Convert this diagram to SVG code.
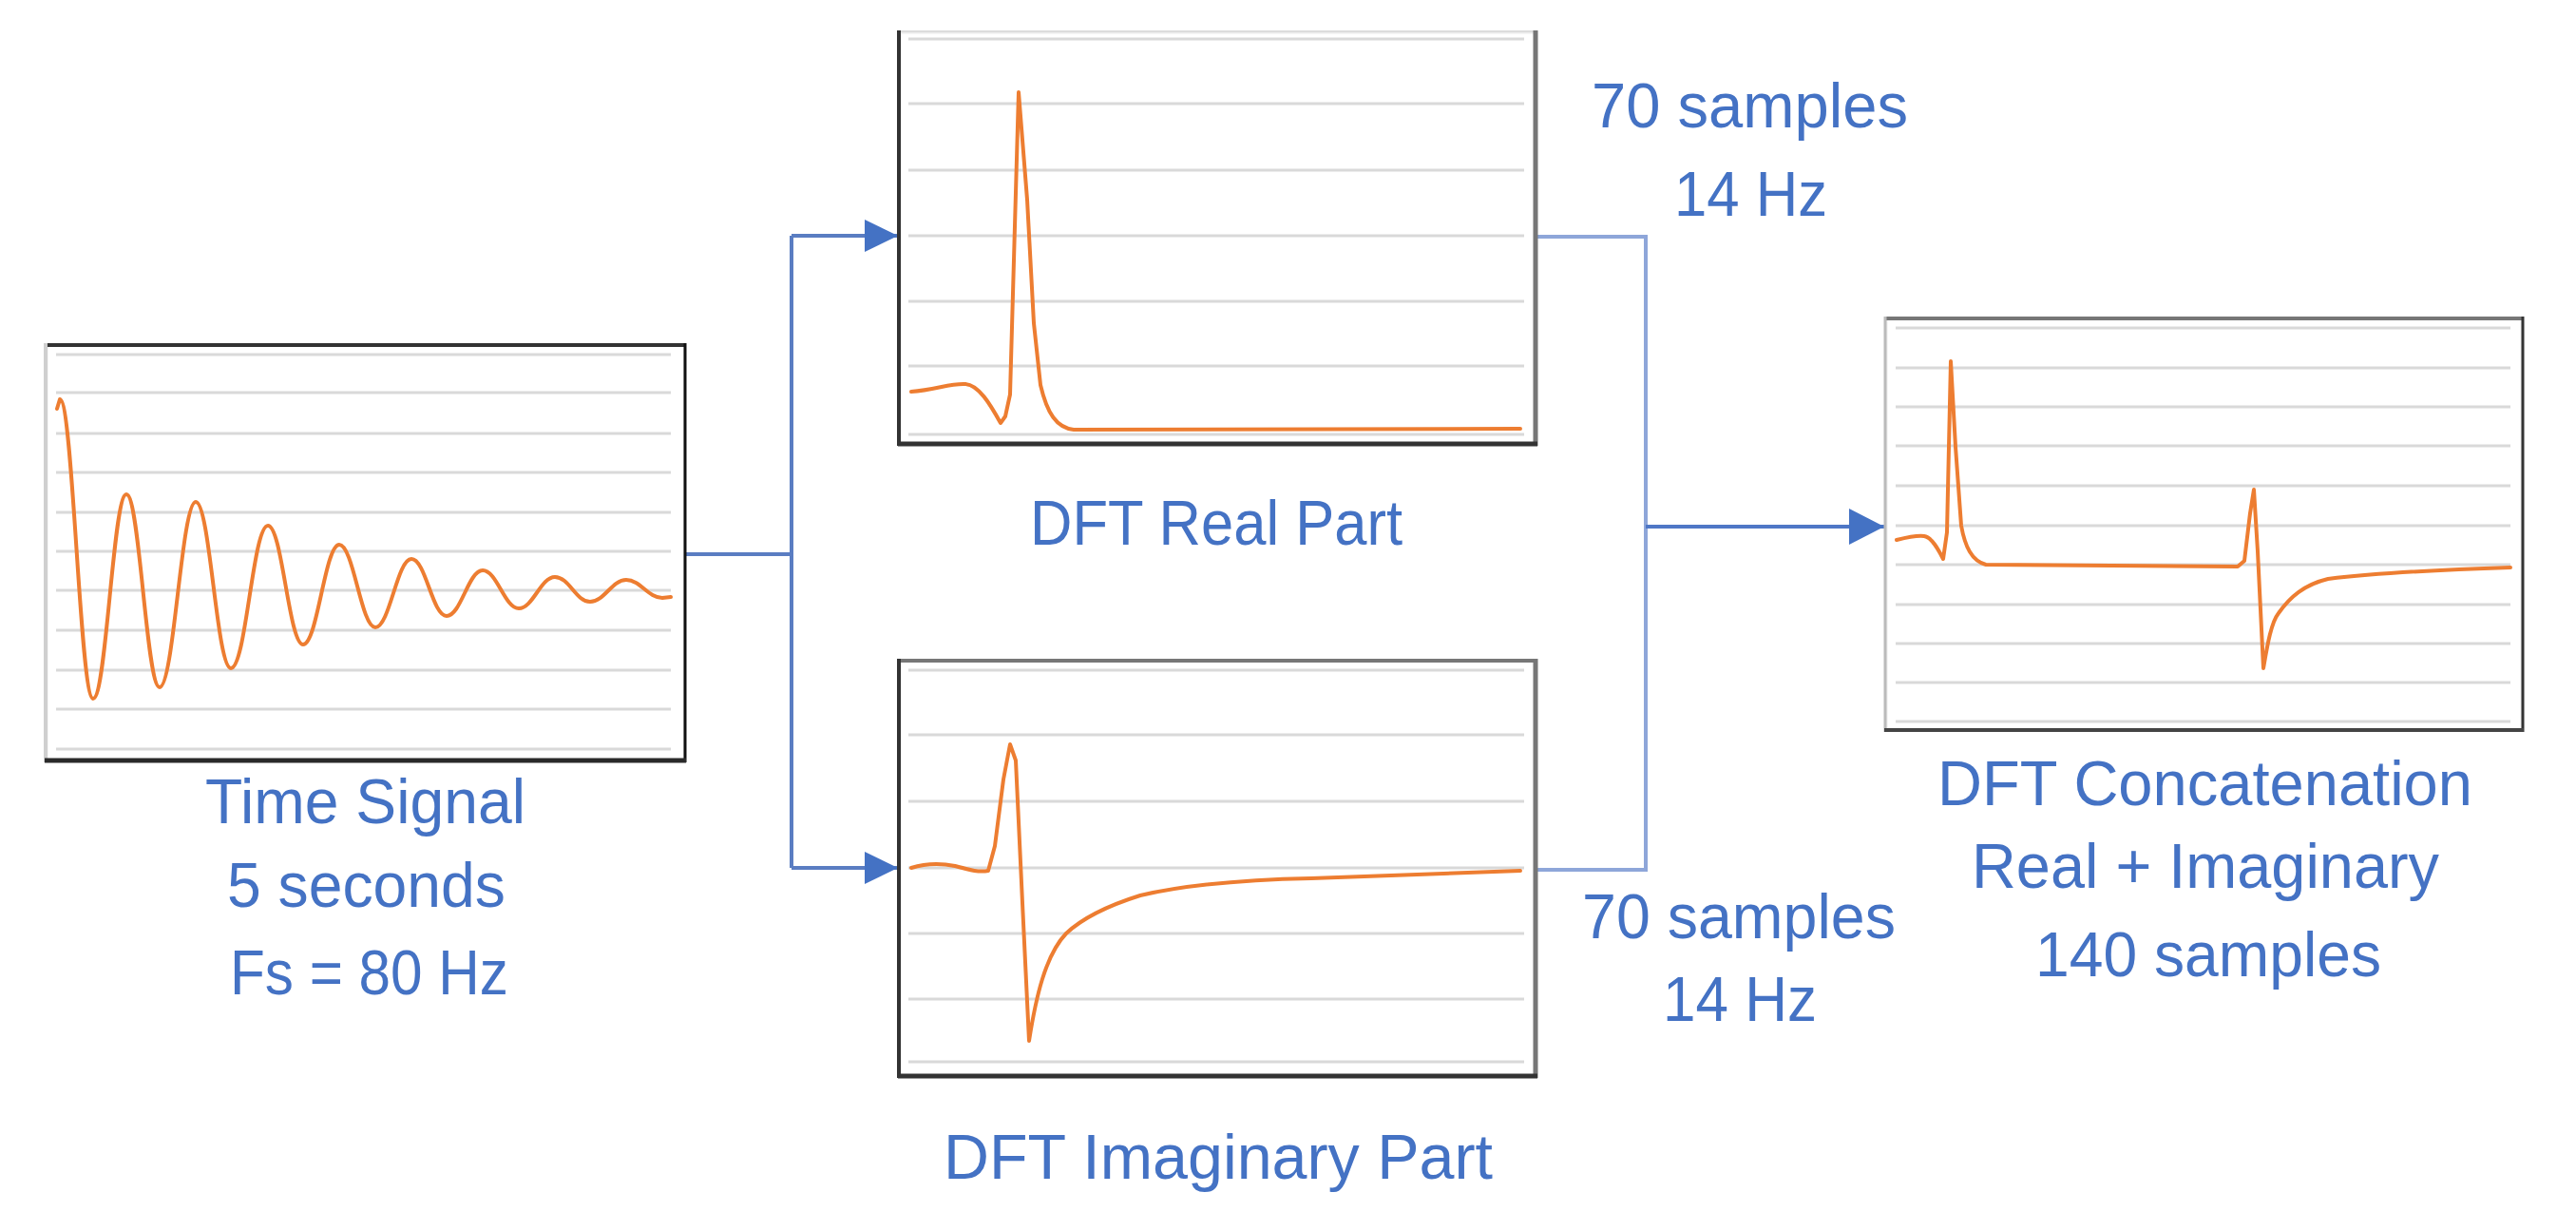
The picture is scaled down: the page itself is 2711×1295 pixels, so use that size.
<svg xmlns="http://www.w3.org/2000/svg" width="2711" height="1295" viewBox="0 0 2711 1295">
<style>
.bg{fill:#ffffff}
.grid{stroke:#d9d9d9;stroke-width:3;fill:none}
.sig{stroke:#ed7d31;stroke-width:4;fill:none;stroke-linejoin:round;stroke-linecap:round}
.inner{fill:#ffffff;stroke:#ececec;stroke-width:3}
.lbl{font-family:"Liberation Sans",Arial,sans-serif;font-size:67px;fill:#4472c4}
.con{fill:none;stroke-width:4;stroke-linejoin:miter}
</style>
<defs>
<marker id="ah" markerWidth="35" markerHeight="34" refX="35" refY="17" orient="auto" markerUnits="userSpaceOnUse"><path d="M0,0 L35,17 L0,34 z" fill="#4472c4"/></marker>
<marker id="ahBig" markerWidth="37" markerHeight="38" refX="37" refY="19" orient="auto" markerUnits="userSpaceOnUse"><path d="M0,0 L37,19 L0,38 z" fill="#4472c4"/></marker>
</defs>
<rect class="bg" x="0" y="0" width="2711" height="1295"/>

<g id="connectors">
<path class="con" stroke="#5a7dc2" d="M722,583 H833 M833,248 V913"/>
<path class="con" stroke="#5a7dc2" d="M833,248 H945" marker-end="url(#ah)"/>
<path class="con" stroke="#5a7dc2" d="M833,913 H945" marker-end="url(#ah)"/>
<path class="con" stroke="#8ea6d9" stroke-width="5" d="M1618,249 H1732 V915 H1618"/>
<path class="con" stroke="#4f77c6" stroke-width="5" d="M1732,554 H1983" marker-end="url(#ahBig)"/>
</g>

<g id="time-signal">
<rect class="inner" x="49" y="363" width="671" height="437"/>
<g class="grid">
<path d="M59,373H706M59,413H706M59,456H706M59,497H706M59,539H706M59,580H706M59,621H706M59,663H706M59,705H706M59,746H706M59,788H706"/>
</g>
<path class="sig" d="M60,430 L63,420 C77,420 84,735 98,735 C112,735 119,520 133,520 C147,520 154,723 168,723 C183,723 191,528 206,528 C221,528 228,703 243,703 C259,703 266,553 282,553 C297,553 304,678 319,678 C334,678 342,573 357,573 C372,573 380,660 395,660 C410,660 418,588 433,588 C448,588 455,648 470,648 C485,648 493,600 508,600 C523,600 531,640 546,640 C561,640 569,607 584,607 C599,607 606,633 621,633 C636,633 644,610 659,610 C674,610 682,629 697,629 L706,628"/>
<line x1="47" y1="363" x2="722" y2="363" stroke="#333" stroke-width="4"/>
<line x1="48" y1="361" x2="48" y2="802" stroke="#cfcfcf" stroke-width="4"/>
<line x1="721" y1="361" x2="721" y2="802" stroke="#111" stroke-width="3"/>
<line x1="47" y1="800" x2="722" y2="800" stroke="#2a2a2a" stroke-width="5"/>
<text class="lbl" x="216" y="866" textLength="337" lengthAdjust="spacingAndGlyphs">Time Signal</text>
<text class="lbl" x="239" y="954" textLength="293" lengthAdjust="spacingAndGlyphs">5 seconds</text>
<text class="lbl" x="242" y="1046" textLength="293" lengthAdjust="spacingAndGlyphs">Fs = 80 Hz</text>
</g>

<g id="dft-real">
<rect class="inner" x="947" y="34" width="669" height="433"/>
<path class="grid" d="M956,41H1604M956,109H1604M956,179H1604M956,248H1604M956,317H1604M956,385H1604M956,457H1604"/>
<path class="sig" d="M959,412 C985,410 1000,403 1016,404 C1030,405 1042,425 1053,445 L1058,438 L1063,415 L1072,97 L1081,210 L1088,340 L1095,405 C1102,435 1112,450 1130,452 L1600,451"/>
<line x1="945" y1="33" x2="1618" y2="33" stroke="#dcdcdc" stroke-width="2"/>
<line x1="946" y1="32" x2="946" y2="469" stroke="#333" stroke-width="4"/>
<line x1="1616" y1="32" x2="1616" y2="469" stroke="#777" stroke-width="5"/>
<line x1="945" y1="467" x2="1618" y2="467" stroke="#333" stroke-width="5"/>
<text class="lbl" x="1084" y="573" textLength="392" lengthAdjust="spacingAndGlyphs">DFT Real Part</text>
</g>

<g id="dft-imag">
<rect class="inner" x="947" y="695" width="669" height="437"/>
<path class="grid" d="M956,705H1604M956,773H1604M956,843H1604M956,913H1604M956,982H1604M956,1051H1604M956,1117H1604"/>
<path class="sig" d="M959,913 C975,908 990,908 1005,911 C1020,915 1030,918 1040,916 L1047,890 L1056,820 L1063,783 L1069,800 L1076,950 L1083,1095 C1090,1050 1100,1005 1122,982 C1140,965 1165,953 1200,942 C1260,928 1330,925 1380,924 C1480,921 1550,918 1600,916"/>
<line x1="945" y1="695" x2="1618" y2="695" stroke="#777" stroke-width="4"/>
<line x1="946" y1="693" x2="946" y2="1134" stroke="#333" stroke-width="4"/>
<line x1="1616" y1="693" x2="1616" y2="1134" stroke="#777" stroke-width="5"/>
<line x1="945" y1="1132" x2="1618" y2="1132" stroke="#333" stroke-width="5"/>
<text class="lbl" x="993" y="1240" textLength="578" lengthAdjust="spacingAndGlyphs">DFT Imaginary Part</text>
</g>

<g id="label-real-out">
<text class="lbl" x="1675" y="134" textLength="333" lengthAdjust="spacingAndGlyphs">70 samples</text>
<text class="lbl" x="1762" y="227" textLength="161" lengthAdjust="spacingAndGlyphs">14 Hz</text>
</g>
<g id="label-imag-out">
<text class="lbl" x="1665" y="987" textLength="330" lengthAdjust="spacingAndGlyphs">70 samples</text>
<text class="lbl" x="1750" y="1074" textLength="162" lengthAdjust="spacingAndGlyphs">14 Hz</text>
</g>

<g id="dft-concat">
<rect class="inner" x="1985" y="335" width="669" height="433"/>
<path class="grid" d="M1995,345H2642M1995,387H2642M1995,428H2642M1995,469H2642M1995,511H2642M1995,553H2642M1995,594H2642M1995,636H2642M1995,677H2642M1995,718H2642M1995,759H2642"/>
<path class="sig" d="M1996,568 C2008,565 2018,563 2025,564 C2033,565 2040,578 2045,588 L2049,560 L2053,380 L2058,470 L2064,553 C2068,575 2075,590 2090,594 L2355,596 L2362,590 L2368,540 L2372,515 L2376,580 L2382,703 C2386,680 2390,655 2398,645 C2410,628 2425,615 2450,609 C2500,603 2580,599 2642,597"/>
<line x1="1983" y1="335" x2="2656" y2="335" stroke="#777" stroke-width="4"/>
<line x1="1984" y1="333" x2="1984" y2="770" stroke="#bbb" stroke-width="3"/>
<line x1="2655" y1="333" x2="2655" y2="770" stroke="#333" stroke-width="3"/>
<line x1="1983" y1="768" x2="2656" y2="768" stroke="#444" stroke-width="4"/>
<text class="lbl" x="2039" y="847" textLength="563" lengthAdjust="spacingAndGlyphs">DFT Concatenation</text>
<text class="lbl" x="2075" y="934" textLength="492" lengthAdjust="spacingAndGlyphs">Real + Imaginary</text>
<text class="lbl" x="2142" y="1027" textLength="364" lengthAdjust="spacingAndGlyphs">140 samples</text>
</g>
</svg>
